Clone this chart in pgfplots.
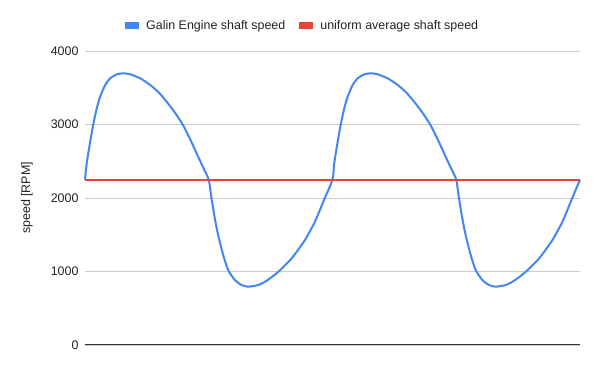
\documentclass[border=0pt]{standalone}
\usepackage{pgfplots}
\pgfplotsset{compat=1.18}
\usepackage{fontspec}
\setmainfont{Liberation Sans}
\definecolor{gblue}{HTML}{4285F4}
\definecolor{gred}{HTML}{EA4335}
\definecolor{ggrid}{HTML}{CCCCCC}
\definecolor{gtext}{HTML}{222222}
\begin{document}
\begin{tikzpicture}
\useasboundingbox (-85bp,-26bp) rectangle (515bp,345bp);
\begin{axis}[
  at={(0,0)}, anchor=south west,
  scale only axis, width=495bp, height=294bp,
  xmin=0, xmax=720, ymin=0, ymax=4000,
  ytick={0,1000,2000,3000,4000},
  xtick=\empty,
  axis line style={draw=none},
  ymajorgrids, grid style={ggrid, line width=0.8bp},
  major tick length=0pt,
  yticklabel style={font=\fontsize{12.5}{14}\selectfont, text=gtext, xshift=-3bp},
  /pgf/number format/assume math mode=true,
  /pgf/number format/1000 sep={},
  legend style={draw=none, fill=none, inner sep=0pt, at={(40bp,319bp)}, anchor=west,
    font=\fontsize{12.5}{14}\selectfont, text=gtext, legend columns=-1,
    /tikz/every even column/.append style={column sep=12bp}},
  legend image code/.code={\fill (0bp,-2.5bp) rectangle (12bp,2.5bp); \path (17bp,0bp);},
  clip=false,
]
\addplot[gblue, line width=2bp, smooth, tension=0.35] coordinates {
(0,2250) (2.5,2470) (7.5,2766) (12.3,3016) (17.1,3220) (22,3379) (29.3,3537) (36.6,3628) (46.2,3683) (56,3697) (65.8,3683) (80.3,3628) (95,3537) (108.5,3424) (123,3260) (132.8,3135) (142.5,2993) (152.2,2815) (162,2615) (171.6,2420) (180,2250)
(184,1996) (188.8,1724) (193.6,1497) (201,1224) (208.2,1020) (218,884) (227.7,816) (237.5,793) (252,816) (261.8,861) (269.1,907) (281.2,997) (300.7,1180) (320,1429) (334.5,1678) (346.6,1950) (360,2250)
(362.5,2470) (367.5,2766) (372.3,3016) (377.1,3220) (382,3379) (389.3,3537) (396.6,3628) (406.2,3683) (416,3697) (425.8,3683) (440.3,3628) (455,3537) (468.5,3424) (483,3260) (492.8,3135) (502.5,2993) (512.2,2815) (522,2615) (531.6,2420) (540,2250)
(544,1996) (548.8,1724) (553.6,1497) (561,1224) (568.2,1020) (578,884) (587.7,816) (597.5,793) (612,816) (621.8,861) (629.1,907) (641.2,997) (660.7,1180) (680,1429) (694.5,1678) (706.6,1950) (720,2250)
};
\addlegendentry{Galin Engine shaft speed}
\addplot[gred, line width=2bp] coordinates {(0,2250) (720,2250)};
\addlegendentry{uniform average shaft speed}
\draw[color=black!80, line width=1bp] (rel axis cs:0,0) -- (rel axis cs:1,0);
\node[font=\fontsize{12.5}{14}\selectfont, text=gtext, xshift=-58bp, rotate=90] at (rel axis cs:0,0.5) {speed [RPM]};
\end{axis}
\end{tikzpicture}
\end{document}
